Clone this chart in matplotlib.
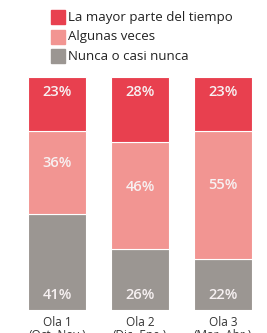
import numpy as np
import matplotlib as mpl
mpl.use('Agg')
import matplotlib.pyplot as plt

plt.rcParams['font.family'] = ['Open Sans', 'DejaVu Sans']

# datos
olas = ['Ola 1\n(Oct.-Nov.)', 'Ola 2\n(Dic.-Ene.)', 'Ola 3\n(Mar.-Abr.)']
series = ['La mayor parte del tiempo', 'Algunas veces', 'Nunca o casi nunca']
mayor_parte = [23, 28, 23]
algunas_veces = [36, 46, 55]
nunca = [41, 26, 22]

colores = ['#E8404F', '#F29592', '#9B9692']

fig = plt.figure(figsize=(2.67, 3.33), dpi=100)
ax = fig.add_axes([28 / 267, 23 / 333, 224 / 267, 233 / 333])

x = np.arange(len(olas))
w = 0.7
ax.bar(x, nunca, w, color=colores[2], edgecolor='white', linewidth=0.8)
ax.bar(x, algunas_veces, w, bottom=nunca, color=colores[1], edgecolor='white', linewidth=0.8)
bottom2 = np.array(nunca) + np.array(algunas_veces)
ax.bar(x, mayor_parte, w, bottom=bottom2, color=colores[0], edgecolor='white', linewidth=0.8)

txt = dict(color='#F7F1F2', fontsize=10.5, fontweight='semibold', ha='center', va='center')
for i in x:
    ax.text(i, 100 - 6.5, f'{mayor_parte[i]}%', **txt)
    ax.text(i, nunca[i] + algunas_veces[i] / 2 + 4, f'{algunas_veces[i]}%', **txt)
    ax.text(i, 6.5, f'{nunca[i]}%', **txt)

ax.set_xlim(-0.35, 2.35)
ax.set_ylim(0, 100)
ax.set_xticks(x)
ax.set_xticklabels(olas, fontsize=8.5, color='#333333', linespacing=1.0)
ax.tick_params(axis='x', length=0, pad=4)
ax.set_yticks([])
for s in ax.spines.values():
    s.set_visible(False)

# leyenda
for k, (nombre, c) in enumerate(zip(series, colores)):
    y0 = 1 - (10 + 19.5 * k) / 333
    fig.patches.append(plt.Rectangle((51 / 267, y0 - 14 / 333), 14 / 267, 14 / 333,
                                     transform=fig.transFigure, color=c))
    fig.text(68 / 267, y0 - 7 / 333, nombre, fontsize=9.5, color='#222222', va='center', ha='left')

fig.savefig('out.png', dpi=100)
